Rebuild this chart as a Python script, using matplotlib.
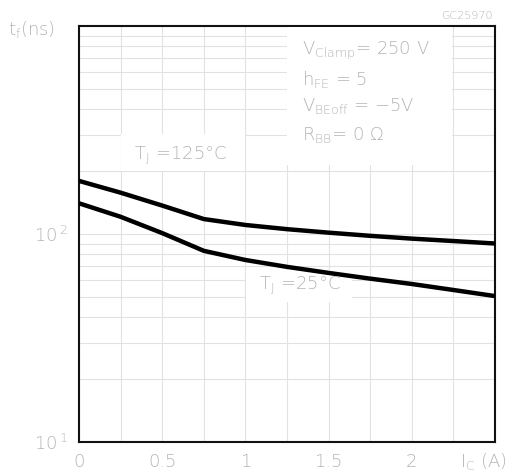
import matplotlib
matplotlib.use("Agg")
import matplotlib.pyplot as plt
import numpy as np
from matplotlib.ticker import FixedLocator, LogLocator, NullFormatter
from matplotlib.patches import Rectangle

plt.rcParams['font.family'] = ['DejaVu Sans']
plt.rcParams['font.weight'] = 'light'
plt.rcParams['mathtext.default'] = 'regular'

# Data
ic = [0.0, 0.25, 0.5, 0.75, 1.0, 1.25, 1.5, 1.75, 2.0, 2.25, 2.5]
tf_125 = [180, 158, 137, 118, 110.5, 105.5, 101.5, 98, 95, 92.5, 90]
tf_25 = [140.5, 121, 101, 83, 75, 69.5, 65, 61, 57.5, 53.8, 50.3]
x_ticks = [0, 0.5, 1, 1.5, 2]
x_tick_labels = ['0', '0.5', '1', '1.5', '2']
y_ticks = [10, 100]
y_tick_labels = ['$10^{\\,1}$', '$10^{\\,2}$']

grey = '#b4b4b4'
gridc = '#e2e2e2'

fig = plt.figure(figsize=(5.12, 4.75), dpi=100)
ax = fig.add_axes([79/512, 1-442/475, 416/512, 416/475])

ax.set_yscale('log')
ax.set_xlim(0, 2.5)
ax.set_ylim(10, 1000)

ax.xaxis.set_major_locator(FixedLocator(x_ticks))
ax.xaxis.set_minor_locator(FixedLocator(np.arange(0, 2.51, 0.25)))
ax.set_xticklabels(x_tick_labels)
ax.yaxis.set_major_locator(FixedLocator(y_ticks))
ax.set_yticklabels(y_tick_labels)
ax.yaxis.set_minor_locator(LogLocator(base=10, subs=np.arange(2, 10)))
ax.yaxis.set_minor_formatter(NullFormatter())

ax.grid(which='both', color=gridc, linewidth=0.8)
ax.tick_params(which='both', length=0, colors=grey, labelsize=13, pad=8)
for lab in ax.get_xticklabels() + ax.get_yticklabels():
    lab.set_color(grey)
for s in ax.spines.values():
    s.set_linewidth(1.5)
    s.set_color('#111111')

ax.plot(ic, tf_125, color='black', linewidth=3.2, solid_capstyle='butt', zorder=5)
ax.plot(ic, tf_25, color='black', linewidth=3.2, solid_capstyle='butt', zorder=5)

def axbox(x0, y0, x1, y1):
    r = Rectangle((x0/512, 1-y1/475), (x1-x0)/512, (y1-y0)/475,
                  transform=fig.transFigure, facecolor='white', edgecolor='none', zorder=3)
    ax.add_patch(r)

axbox(287, 27, 452, 165)
axbox(121, 134, 245, 171)
axbox(246, 270, 352, 302)

ts = 13
fig.text(134/512, 1-155/475, '$T_J$ =125°C', color=grey, fontsize=ts,
         va='center', ha='left', zorder=6)
fig.text(259/512, 1-285/475, '$T_J$ =25°C', color=grey, fontsize=ts,
         va='center', ha='left', zorder=6)

params = ['$V_{Clamp}$= 250 V', '$h_{FE}$ = 5', '$V_{BEoff}$ = −5V', '$R_{BB}$= 0 Ω']
ys = [50, 80, 106, 135]
for t, yy in zip(params, ys):
    fig.text(302/512, 1-yy/475, t, color=grey, fontsize=ts, va='center', ha='left', zorder=6)

fig.text(8/512, 1-30/475, '$t_f$(ns)', color=grey, fontsize=ts, va='center', ha='left')
fig.text(493/512, 1-16/475, 'GC25970', color=grey, fontsize=8, va='center', ha='right')
fig.text(483/512, 1-461/475, '$I_C$ (A)', color=grey, fontsize=ts, va='center', ha='center')

fig.savefig('out.png', dpi=100)
